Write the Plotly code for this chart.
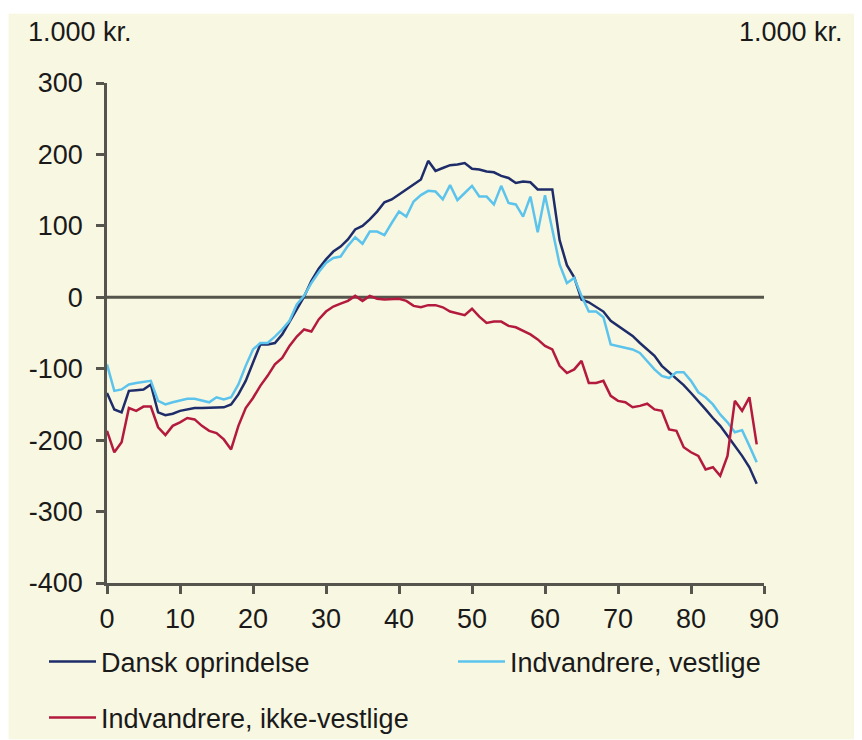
import plotly.graph_objects as go

ages = list(range(0, 90))

dansk = [-134, -157, -161, -131, -130, -129, -122, -161, -165, -163,
         -159, -157, -155, -155, -155, -155, -154, -150, -136, -117,
         -92, -66, -66, -64, -52, -35, -17, 1, 23, 40,
         53, 64, 71, 81, 95, 100, 109, 120, 133, 137,
         144, 151, 158, 165, 191, 177, 181, 185, 186, 188,
         180, 179, 176, 175, 170, 167, 160, 162, 161, 151,
         151, 151, 80, 45, 28, -3, -7, -13, -20, -33,
         -40, -47, -54, -64, -73, -82, -96, -105, -115, -123,
         -134, -145, -157, -169, -180, -194, -208, -222, -238, -261]

vestlige = [-94, -131, -129, -122, -120, -119, -117, -145, -150, -147,
            -144, -142, -142, -145, -147, -140, -143, -140, -122, -96,
            -73, -64, -64, -55, -45, -33, -10, 2, 20, 35,
            48, 55, 57, 72, 84, 75, 92, 92, 87, 104,
            120, 113, 134, 143, 149, 148, 137, 157, 136, 146,
            156, 141, 141, 130, 156, 132, 130, 113, 141, 91,
            143, 95, 46, 20, 27, 2, -20, -20, -28, -66,
            -68, -71, -73, -78, -89, -101, -110, -113, -105, -105,
            -117, -133, -140, -150, -164, -175, -189, -186, -208, -231]

ikke_vestlige = [-187, -217, -203, -155, -159, -153, -153, -182, -193, -180,
                 -175, -169, -171, -180, -187, -190, -199, -213, -180, -155,
                 -141, -124, -110, -94, -85, -68, -55, -45, -48, -31,
                 -20, -13, -9, -5, 2, -5, 2, -2, -3, -2,
                 -2, -5, -12, -14, -11, -11, -14, -20, -23, -25,
                 -16, -27, -36, -34, -34, -40, -42, -47, -52, -59,
                 -68, -73, -96, -106, -101, -89, -120, -120, -117, -138,
                 -145, -147, -154, -152, -149, -157, -159, -185, -187, -210,
                 -217, -222, -241, -238, -250, -222, -145, -159, -140, -206]

y_ticks = [300, 200, 100, 0, -100, -200, -300, -400]
y_ticktext = [str(v) for v in y_ticks]
x_ticks = [0, 10, 20, 30, 40, 50, 60, 70, 80, 90]
unit_label = "1.000 kr."

FONT = "Liberation Sans, Arial, sans-serif"
FS = 27
TXT = "#1a1a1a"
AXC = "#55554d"
BG = "#F8F7E1"

# figure sits inside the page's 8px body margin
W, H = 854, 732
ml, mr, mt, mb = 98.5, 98, 74.5, 156.5
PW, PH = W - ml - mr, H - mt - mb

fig = go.Figure()
fig.add_trace(go.Scatter(x=ages, y=dansk, mode="lines", name="Dansk oprindelse",
                         line=dict(color="#1E2C6A", width=2.5), legend="legend",
                         showlegend=True))
fig.add_trace(go.Scatter(x=ages, y=vestlige, mode="lines", name="Indvandrere, vestlige",
                         line=dict(color="#5CC4EC", width=2.5), legend="legend2",
                         showlegend=True))
fig.add_trace(go.Scatter(x=ages, y=ikke_vestlige, mode="lines", name="Indvandrere, ikke-vestlige",
                         line=dict(color="#B31A3E", width=2.5), legend="legend3",
                         showlegend=True))

axis_common = dict(showgrid=False, zeroline=False, showline=True, linecolor=AXC,
                   linewidth=2.5, ticks="outside", ticklen=8, tickwidth=2.5,
                   tickcolor=AXC, tickfont=dict(family=FONT, size=FS, color=TXT))


def leg(xpx, ycpx):
    return dict(orientation="h", x=xpx / W, xanchor="left", y=1 - ycpx / H,
                yanchor="middle", yref="container", xref="container", itemwidth=47,
                bgcolor="rgba(0,0,0,0)", font=dict(family=FONT, size=FS, color=TXT))


fig.update_layout(
    width=W, height=H,
    showlegend=True,
    margin=dict(l=ml, r=mr, t=mt, b=mb, autoexpand=False),
    paper_bgcolor="white",
    plot_bgcolor=BG,
    font=dict(family=FONT, size=FS, color=TXT),
    xaxis=dict(range=[0, 90], tickvals=x_ticks, ticklabelstandoff=2, **axis_common),
    yaxis=dict(range=[-400, 300], tickvals=y_ticks, ticktext=y_ticktext,
               ticklabelstandoff=8, **axis_common),
    yaxis2=dict(range=[-400, 300], tickvals=y_ticks, ticktext=y_ticktext, overlaying="y",
                side="right", anchor="x", ticklabelstandoff=13, **axis_common),
    legend=leg(36, 654),
    legend2=leg(445, 654),
    legend3=leg(36, 710),
    shapes=[
        dict(type="rect", xref="paper", yref="paper", layer="below",
             x0=-ml / PW, x1=1 + (847 - (W - mr)) / PW,
             y0=-mb / PH, y1=1 + (mt - 5) / PH,
             fillcolor=BG, line=dict(width=0)),
        dict(type="line", xref="paper", yref="y", x0=0, x1=1, y0=0, y1=0,
             line=dict(color=AXC, width=3), layer="below"),
    ],
    annotations=[
        dict(text=unit_label, xref="paper", yref="paper", showarrow=False,
             x=(17 - ml) / PW, xanchor="left",
             y=1 + (mt - 23) / PH, yanchor="middle",
             font=dict(family=FONT, size=FS, color=TXT)),
        dict(text=unit_label, xref="paper", yref="paper", showarrow=False,
             x=1 + (837 - (W - mr)) / PW, xanchor="right",
             y=1 + (mt - 23) / PH, yanchor="middle",
             font=dict(family=FONT, size=FS, color=TXT)),
    ],
)
fig.write_html("out.html")
